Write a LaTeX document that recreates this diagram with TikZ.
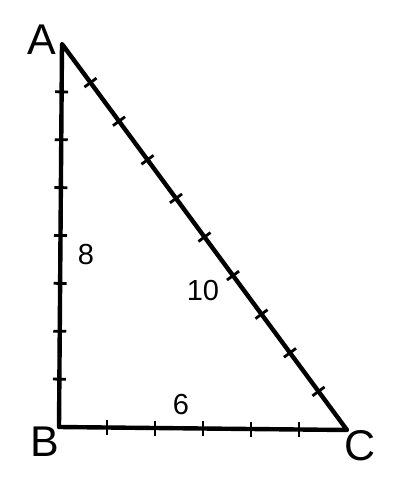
\documentclass[tikz,border=0pt]{standalone}
\usepackage{fontspec}
\setmainfont{Liberation Sans}
\usetikzlibrary{calc}
\begin{document}
\begin{tikzpicture}[x=1pt,y=-1pt,
  side/.style={line width=4.4pt,line cap=round,line join=round},
  tick/.style={line width=2.8pt},
  vlabel/.style={font=\fontsize{43}{43}\selectfont,inner sep=0pt},
  nlabel/.style={font=\fontsize{29}{29}\selectfont,inner sep=0pt}]
\useasboundingbox (0,0) rectangle (400,493);
\coordinate (A) at (62,44);
\coordinate (B) at (59,427);
\coordinate (C) at (347,430);
\draw[side] (A) -- (B) -- (C) -- cycle;
% ticks on AB (8 parts)
\foreach \i in {1,...,7}{
  \draw[tick] ($(A)!\i/8!(B)!6.5pt!90:(B)$) -- ($(A)!\i/8!(B)!6.5pt!-90:(B)$);
}
% ticks on BC (6 parts)
\foreach \i in {1,...,5}{
  \path ($(B)!\i/6!(C)$) coordinate (t);
  \draw[tick] ($(t)+(0,-7.5)$) -- ($(t)+(0,7.5)$);
}
% ticks on AC (10 parts)
\foreach \i in {1,...,9}{
  \path ($(A)!\i/10!(C)$) coordinate (t);
  \draw[tick] ($(t)!7.5pt!90:(C)$) -- ($(t)!7.5pt!-90:(C)$);
}
\node[vlabel] (la) at (42,40) {A};
\node[vlabel] (lb) at (45,442) {B};
\node[vlabel] (lc) at (360,446) {C};
\node[nlabel] (n8) at (86,255) {8};
\node[nlabel] (n10) at (203,291) {10};
\node[nlabel] (n6) at (181,405) {6};
\end{tikzpicture}
\end{document}
